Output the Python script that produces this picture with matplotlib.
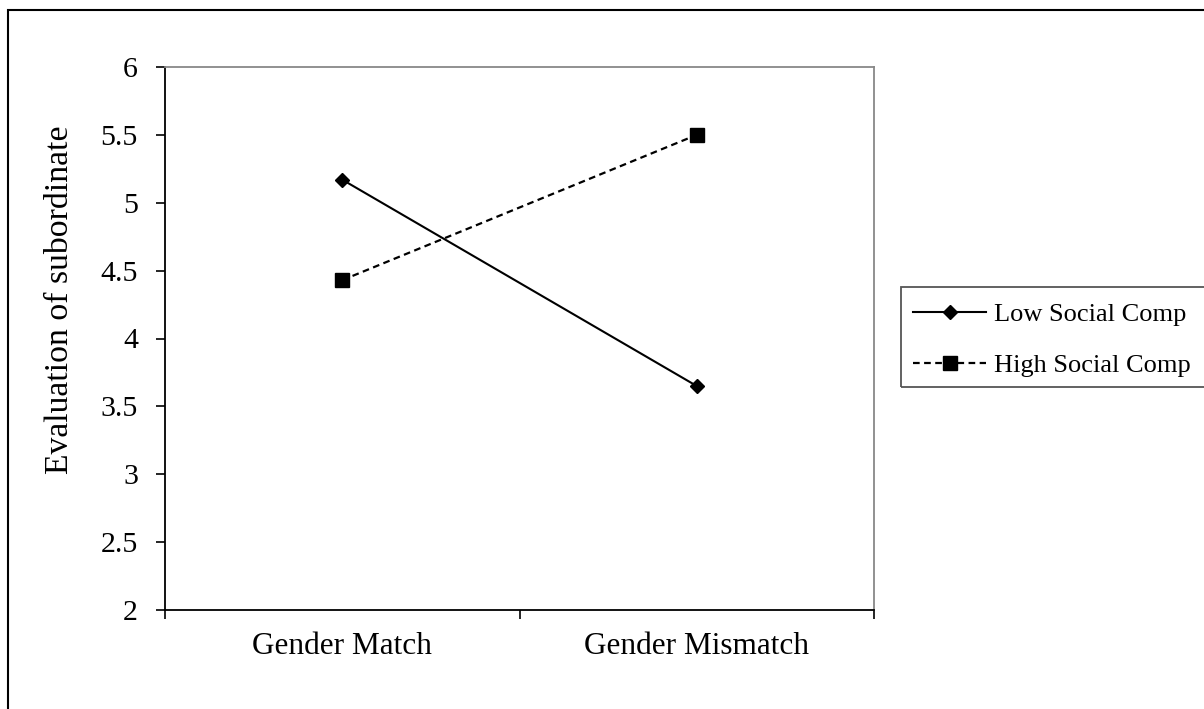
import matplotlib
matplotlib.use("Agg")
import matplotlib.pyplot as plt
from matplotlib.patches import Rectangle
from matplotlib.ticker import FixedLocator, FuncFormatter

categories = ["Gender Match", "Gender Mismatch"]
low_social = [5.17, 3.65]
high_social = [4.43, 5.50]
series_labels = ["Low Social Comp", "High Social Comp"]
y_ticks = [2, 2.5, 3, 3.5, 4, 4.5, 5, 5.5, 6]
y_label = "Evaluation of subordinate"

plt.rcParams['font.family'] = ['Liberation Serif', 'DejaVu Serif']

W, H = 1204, 709
fig = plt.figure(figsize=(W / 100, H / 100), dpi=100)
fig.patch.set_facecolor("white")

# outer frame
fig.patches.append(Rectangle((8 / W, -0.1), 1.2, (H - 10) / H + 0.1, transform=fig.transFigure,
                             fill=False, edgecolor="black", linewidth=1.5))

ax = fig.add_axes([165 / W, 99 / H, 709 / W, 543 / H])
x = list(range(len(categories)))

ax.plot(x, low_social, color="black", linewidth=1.5, marker="D", markersize=7.5,
        label=series_labels[0])
ax.plot(x, high_social, color="black", linewidth=1.6, linestyle=(0, (3, 2)), marker="s",
        markersize=10.5, label=series_labels[1])

ax.set_xlim(-0.5, len(categories) - 0.5)
ax.set_ylim(2, 6)

ax.xaxis.set_major_locator(FixedLocator([i - 0.5 for i in range(len(categories) + 1)]))
ax.xaxis.set_major_formatter(FuncFormatter(lambda v, p: ""))
ax.xaxis.set_minor_locator(FixedLocator(x))
ax.set_xticklabels(categories, minor=True)
ax.tick_params(axis="x", which="minor", length=0, pad=15.5, labelsize=22.5)
ax.tick_params(axis="x", which="major", length=6.5, width=1.2, direction="out")

ax.yaxis.set_major_locator(FixedLocator(y_ticks))
ax.yaxis.set_major_formatter(FuncFormatter(lambda v, p: f"{v:g}"))
ax.tick_params(axis="y", length=6.5, width=1.2, direction="out", pad=13, labelsize=21.5)

for s in ("left", "bottom"):
    ax.spines[s].set_color("black")
    ax.spines[s].set_linewidth(1.3)
for s in ("top", "right"):
    ax.spines[s].set_color("#888888")
    ax.spines[s].set_linewidth(1.3)

fig.text(60 / W, 1 - 300 / H, y_label, rotation=90, ha="center", va="center", fontsize=24.3)

# legend frame (extends past the right edge, as in the reference)
fig.patches.append(Rectangle((901 / W, 1 - 387 / H), 0.3, 100 / H, transform=fig.transFigure,
                             fill=False, edgecolor="#555555", linewidth=1.3))
leg = ax.legend(loc="upper left", bbox_to_anchor=(897.5 / W, 1 - 287 / H),
                bbox_transform=fig.transFigure, fontsize=19, frameon=False,
                handlelength=2.75, handletextpad=0.3,
                borderpad=0.6, labelspacing=1.05, borderaxespad=0)

fig.savefig("out.png", dpi=100)
